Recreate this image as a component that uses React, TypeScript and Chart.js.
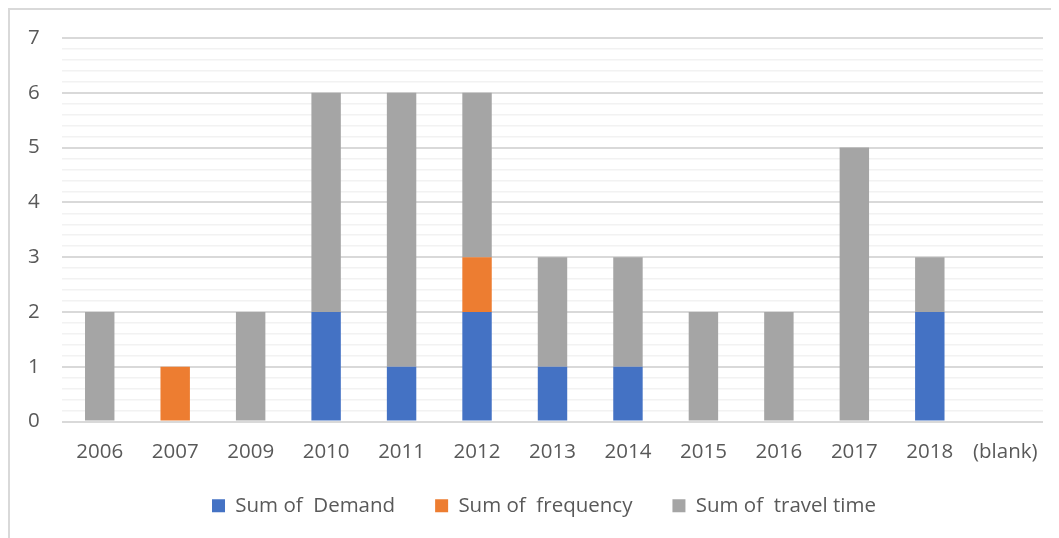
import React, { useEffect, useRef } from "react";
import { Chart, registerables } from "chart.js";

Chart.register(...registerables);

const categories = ["2006", "2007", "2009", "2010", "2011", "2012", "2013", "2014", "2015", "2016", "2017", "2018", "(blank)"];
const demand = [null, null, null, 2, 1, 2, 1, 1, null, null, null, 2, null];
const frequency = [null, 1, null, null, null, 1, null, null, null, null, null, null, null];
const travelTime = [2, null, 2, 4, 5, 3, 2, 2, 2, 2, 5, 1, null];
const seriesNames = ["Sum of  Demand", "Sum of  frequency", "Sum of  travel time"];
const seriesColors = ["#4472C4", "#ED7D31", "#A5A5A5"];
const yMax = 7;
const minorStep = 0.2;

const FONT = "'Open Sans', sans-serif";
const TEXT = "#595959";

const isMajor = (v: number) => Math.abs(v - Math.round(v)) < 1e-6;

// pulls the legend row up a little closer to the category labels
const legendShift = {
  id: "legendShift",
  afterLayout(chart: any) {
    const l = chart.legend;
    if (l) {
      l.top -= 8;
      l.bottom -= 8;
    }
  },
};

export default function App() {
  const ref = useRef<HTMLCanvasElement | null>(null);

  useEffect(() => {
    if (!ref.current) return;
    const chart = new Chart(ref.current, {
      type: "bar",
      data: {
        labels: categories,
        datasets: [
          { label: seriesNames[0], data: demand, backgroundColor: seriesColors[0] },
          { label: seriesNames[1], data: frequency, backgroundColor: seriesColors[1] },
          { label: seriesNames[2], data: travelTime, backgroundColor: seriesColors[2] },
        ],
      },
      plugins: [legendShift],
      options: {
        responsive: false,
        animation: false,
        datasets: {
          bar: { categoryPercentage: 1, barPercentage: 0.39, borderWidth: 0 },
        },
        layout: { padding: { left: 35, right: 15, top: 28, bottom: 4 } },
        plugins: {
          tooltip: { enabled: false },
          legend: {
            position: "bottom",
            labels: {
              boxWidth: 13,
              boxHeight: 13,
              padding: 40,
              color: TEXT,
              font: { family: FONT, size: 20.5 },
            },
          },
        },
        scales: {
          x: {
            stacked: true,
            grid: { display: false, drawTicks: false },
            border: { display: false },
            ticks: {
              color: TEXT,
              font: { family: FONT, size: 20.5 },
              padding: 18,
              maxRotation: 0,
              autoSkip: false,
            },
            afterFit: (s: any) => {
              s.height = 42;
            },
          },
          y: {
            stacked: true,
            min: 0,
            max: yMax,
            border: { display: false },
            grid: {
              drawTicks: false,
              color: (ctx: any) => (isMajor(ctx.tick.value) ? "#d9d9d9" : "#f2f2f2"),
              lineWidth: (ctx: any) => (isMajor(ctx.tick.value) ? 2 : 1.5),
            },
            ticks: {
              stepSize: minorStep,
              maxTicksLimit: 100,
              autoSkip: false,
              mirror: true,
              color: TEXT,
              font: { family: FONT, size: 20.5 },
              padding: -34,
              callback: (v: any) => (isMajor(Number(v)) ? String(Math.round(Number(v))) : ""),
            },
            afterFit: (s: any) => {
              s.width = 17;
            },
          },
        },
      },
    });
    return () => chart.destroy();
  }, []);

  return (
    <>
      <style>{"html,body{overflow:hidden}"}</style>
      <div
        style={{
          width: 1043,
          height: 530,
          overflow: "hidden",
          boxSizing: "border-box",
          borderTop: "2px solid #d9d9d9",
          borderLeft: "2px solid #d9d9d9",
          background: "#fff",
        }}
      >
        <canvas ref={ref} width={1048} height={528} style={{ display: "block" }} />
      </div>
    </>
  );
}
